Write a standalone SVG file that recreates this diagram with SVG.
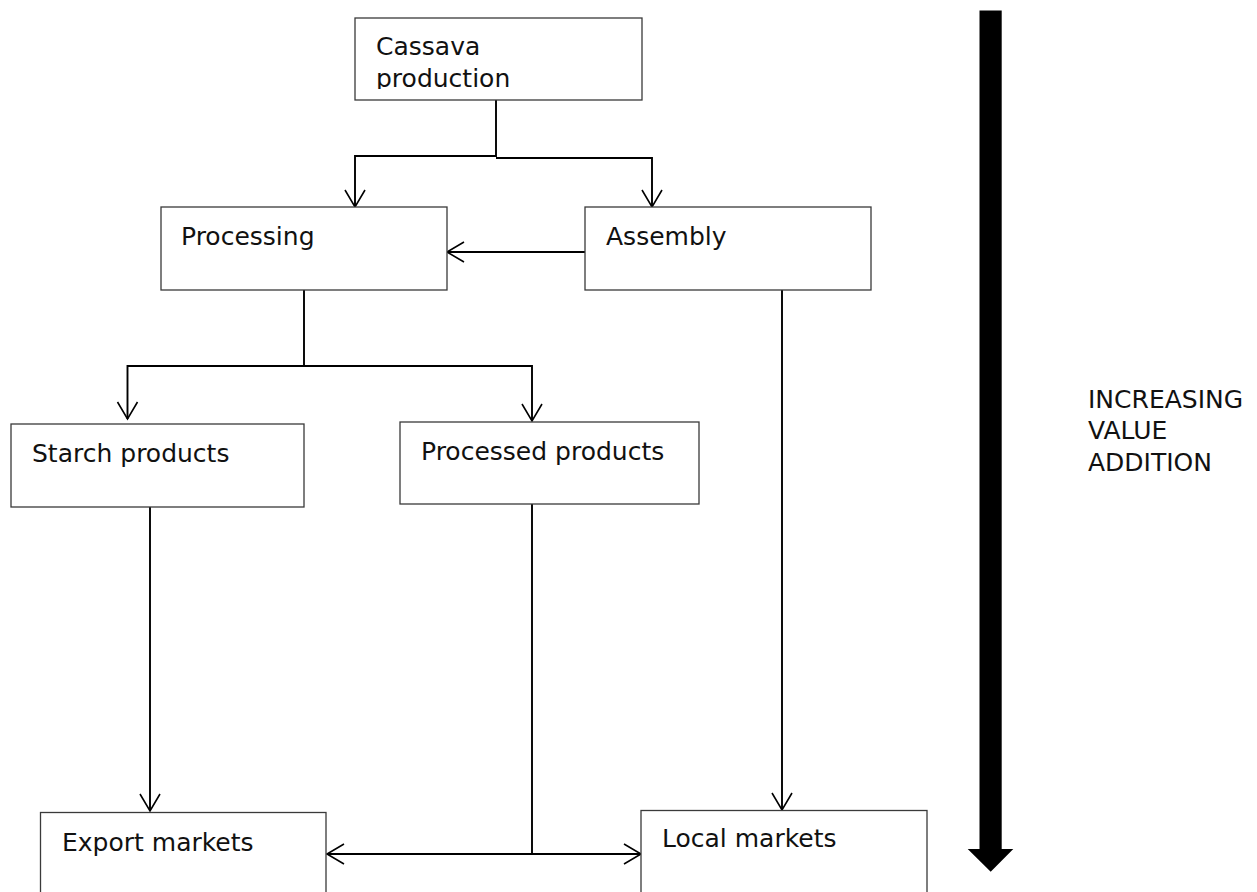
<svg xmlns="http://www.w3.org/2000/svg" width="1257" height="892" viewBox="0 0 1257 892">
  <style>
    .box { fill: #ffffff; stroke: #3a3a3a; stroke-width: 1.3; }
    .lbl { font-family: "DejaVu Sans", "Liberation Sans", sans-serif; font-size: 25px; fill: #111111; }
    .conn { fill: none; stroke: #000000; stroke-width: 1.9; }
  </style>
  <defs>
    <marker id="open" viewBox="-20 -12 22 24" refX="0" refY="0" markerWidth="22" markerHeight="24" markerUnits="userSpaceOnUse" orient="auto-start-reverse">
      <path d="M -17 -10 L 0 0 L -17 10" fill="none" stroke="#000000" stroke-width="1.6"/>
    </marker>
    <clipPath id="clipCassava">
      <rect x="355" y="18" width="287" height="71"/>
    </clipPath>
  </defs>
  <rect width="1257" height="892" fill="#ffffff"/>

  <g id="connectors">
    <path class="conn" d="M 496 100 L 496 157"/>
    <path class="conn" d="M 496 156 L 355 156 L 355 207" marker-end="url(#open)"/>
    <path class="conn" d="M 496 158 L 652 158 L 652 207" marker-end="url(#open)"/>
    <path class="conn" d="M 585 252 L 447 252" marker-end="url(#open)"/>
    <path class="conn" d="M 304 290 L 304 366"/>
    <path class="conn" d="M 304 366 L 127.5 366 L 127.5 419" marker-end="url(#open)"/>
    <path class="conn" d="M 304 366 L 532 366 L 532 421" marker-end="url(#open)"/>
    <path class="conn" d="M 150 507 L 150 811" marker-end="url(#open)"/>
    <path class="conn" d="M 782 290 L 782 810" marker-end="url(#open)"/>
    <path class="conn" d="M 532 504 L 532 854"/>
    <path class="conn" d="M 327 854 L 641 854" marker-start="url(#open)" marker-end="url(#open)"/>
  </g>

  <g id="cassava">
    <rect class="box" x="355" y="18" width="287" height="82"/>
    <g clip-path="url(#clipCassava)">
      <text class="lbl" x="376" y="55">Cassava</text>
      <text class="lbl" x="376" y="87">production</text>
    </g>
  </g>
  <g id="processing">
    <rect class="box" x="161" y="207" width="286" height="83"/>
    <text class="lbl" x="181" y="245">Processing</text>
  </g>
  <g id="assembly">
    <rect class="box" x="585" y="207" width="286" height="83"/>
    <text class="lbl" x="606" y="245">Assembly</text>
  </g>
  <g id="starch">
    <rect class="box" x="11" y="424" width="293" height="83"/>
    <text class="lbl" x="32" y="462">Starch products</text>
  </g>
  <g id="processed">
    <rect class="box" x="400" y="422" width="299" height="82"/>
    <text class="lbl" x="421" y="460">Processed products</text>
  </g>
  <g id="export">
    <rect class="box" x="40.5" y="812.5" width="285.5" height="100"/>
    <text class="lbl" x="62" y="851">Export markets</text>
  </g>
  <g id="local">
    <rect class="box" x="641" y="810.5" width="286" height="100"/>
    <text class="lbl" x="662" y="847">Local markets</text>
  </g>

  <g id="value-arrow">
    <path d="M 979.5 10.5 L 1001.7 10.5 L 1001.7 849 L 1013.3 849 L 990.7 871.7 L 967.7 849 L 979.5 849 Z" fill="#000000"/>
    <text class="lbl" x="1088" y="408">INCREASING</text>
    <text class="lbl" x="1088" y="439">VALUE</text>
    <text class="lbl" x="1088" y="471">ADDITION</text>
  </g>
</svg>
